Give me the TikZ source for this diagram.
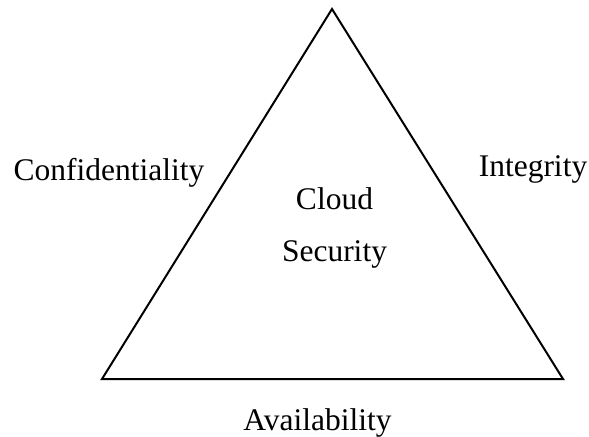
\documentclass[tikz,border=0pt]{standalone}
\usepackage{fontspec}
\setmainfont{Liberation Serif}
\begin{document}
\begin{tikzpicture}[x=1bp,y=-1bp,
  lbl/.style={anchor=base,inner sep=0pt,font=\fontsize{31.5bp}{36bp}\selectfont},
  edge/.style={line width=2bp,line join=miter}]
\useasboundingbox (0,0) rectangle (589,437);
\coordinate (top) at (332,9);
\coordinate (bl) at (102,379);
\coordinate (br) at (563,379);
\draw[edge] (top) -- (bl) -- (br) -- cycle;
\node[lbl] (conf) at (109,181) {Confidentiality};
\node[lbl] (integ) at (533,177) {Integrity};
\node[lbl] (cloud) at (334.5,210) {Cloud};
\node[lbl] (sec) at (334.5,262) {Security};
\node[lbl] (avail) at (317.5,430) {Availability};
\end{tikzpicture}
\end{document}
